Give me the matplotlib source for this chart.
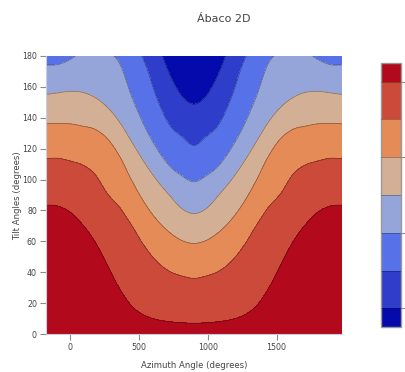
import numpy as np
import matplotlib
matplotlib.use('Agg')
import matplotlib.pyplot as plt
from matplotlib.patches import Rectangle

# azimuth columns (degrees) and the height (tilt, degrees) of each contour line in every column
azimuth = [-180, -90, 0, 90, 180, 270, 360, 450, 540, 630, 720, 810, 900,
           990, 1080, 1170, 1260, 1350, 1440, 1530, 1620, 1710, 1800, 1890, 1980]

level_7 = [83.5, 83, 79, 71, 60, 45, 29.5, 18, 12.3, 9.5, 8.2, 7.5, 7.2,
           7.5, 8.2, 9.5, 12.3, 18, 29.5, 45, 60, 71, 79, 83, 83.5]
level_6 = [113.5, 113.8, 112, 109.5, 103.5, 91, 82, 70, 57, 47, 40.8, 37.7, 36.2,
           37.7, 40.8, 47, 57, 70, 82, 91, 103.5, 109.5, 112, 113.8, 113.5]
level_5 = [136, 136.3, 136, 134.5, 132.5, 126.5, 115, 99, 85, 74, 66, 60.7, 58.7,
           60.7, 66, 74, 85, 99, 115, 126.5, 132.5, 134.5, 136, 136.3, 136]
level_4 = [155, 156, 157, 156.3, 153, 146.7, 137, 124, 111, 99.6, 90, 81.3, 78,
           81.3, 90, 99.6, 111, 124, 137, 146.7, 153, 156.3, 157, 156, 155]
level_3 = [174, 174.2, 177.5, 183, 186, 183, 175, 153, 134.5, 120, 109, 102.5, 98.5,
           102.5, 109, 120, 134.5, 153, 175, 183, 186, 183, 177.5, 174.2, 174]
level_2 = [205, 205, 205, 205, 205, 202, 198, 190, 176, 152.5, 135.5, 127.8, 122,
           127.8, 135.5, 152.5, 176, 190, 198, 202, 205, 205, 205, 205, 205]
level_1 = [235, 235, 235, 235, 235, 232, 228, 220, 205, 189, 168.5, 154, 148.5,
           154, 168.5, 189, 205, 220, 228, 232, 235, 235, 235, 235, 235]

x_ticks = [0, 500, 1000, 1500]
y_ticks = [0, 20, 40, 60, 80, 100, 120, 140, 160, 180]
cbar_ticks = [1, 3, 5, 7]

# plotly RdBu colours for the 8 bands, low to high
band_colors = ['#050aac', '#2e3ecb', '#5772e9', '#96a5d9',
               '#d3b095', '#e48b57', '#cb4a39', '#b20a1c']
text_color = '#444444'


def smooth_line(xs, ys, xf):
    # Catmull-Rom curve through the read points (uniform spacing)
    xs = np.asarray(xs, dtype=float)
    ys = np.asarray(ys, dtype=float)
    n = len(xs)
    h = xs[1] - xs[0]
    i = np.clip(((xf - xs[0]) // h).astype(int), 0, n - 2)
    t = (xf - xs[i]) / h
    p0 = ys[np.maximum(i - 1, 0)]
    p1 = ys[i]
    p2 = ys[i + 1]
    p3 = ys[np.minimum(i + 2, n - 1)]
    m1 = (p2 - p0) / 2
    m2 = (p3 - p1) / 2
    return ((2 * t**3 - 3 * t**2 + 1) * p1 + (t**3 - 2 * t**2 + t) * m1
            + (-2 * t**3 + 3 * t**2) * p2 + (t**3 - t**2) * m2)


# build the z table: value k on line level_k, linear in tilt between lines
az_grid = np.linspace(azimuth[0], azimuth[-1], 541)
tilt = np.linspace(0, 180, 361)
lines = [level_7, level_6, level_5, level_4, level_3, level_2, level_1]
lines_fine = [smooth_line(azimuth, ln, az_grid) for ln in lines]
z = np.empty((len(tilt), len(az_grid)))
for j in range(len(az_grid)):
    heights = [-30] + [ln[j] for ln in lines_fine] + [250]
    values = [8, 7, 6, 5, 4, 3, 2, 1, 0]
    z[:, j] = np.interp(tilt, heights, values)

levels = [-1, 1, 2, 3, 4, 5, 6, 7, 9]

fig = plt.figure(figsize=(4.06, 3.72), dpi=100)
ax = fig.add_axes([46 / 406, 1 - 334.3 / 372, 296 / 406, 278.6 / 372])

cf = ax.contourf(az_grid, tilt, z, levels=levels, colors=band_colors)
cs = ax.contour(az_grid, tilt, z, levels=levels[1:-1], colors='black',
                linewidths=0.5, alpha=0.4)

ax.set_xlim(-175, 1975)
ax.set_ylim(0, 180)
ax.set_xticks(x_ticks)
ax.set_yticks(y_ticks)
ax.tick_params(direction='out', length=4, width=0.8, color='#8a8a8a',
               labelsize=5.7, labelcolor=text_color, pad=2.5)
for side in ['top', 'right']:
    ax.spines[side].set_visible(False)
for side in ['left', 'bottom']:
    ax.spines[side].set_color('#c8cce0')
    ax.spines[side].set_linewidth(0.8)

# colorbar
cax = fig.add_axes([380.7 / 406, 1 - 327.3 / 372, 20.3 / 406, 264.6 / 372])
cbar = fig.colorbar(cf, cax=cax, spacing='proportional')
cbar.add_lines(cs)
cax.set_ylim(0.5, 7.5)
cbar.outline.set_visible(False)
cax.add_patch(Rectangle((0, 0), 1, 1, transform=cax.transAxes, fill=False,
                        ec='#999999', lw=1, clip_on=False))
cbar.set_ticks(cbar_ticks)
cax.tick_params(direction='out', length=5, width=0.8, color='#8a8a8a',
                labelright=False)

fig.text(223.7 / 406, 1 - 19 / 372, 'Ábaco 2D', ha='center', va='center',
         fontsize=8, color=text_color)
fig.text(194 / 406, 1 - 365 / 372, 'Azimuth Angle (degrees)', ha='center',
         va='center', fontsize=6.1, color=text_color)
fig.text(17.5 / 406, 1 - 195.8 / 372, 'Tilt Angles (degrees)', ha='center',
         va='center', rotation=90, fontsize=6.1, color=text_color)

fig.savefig('out.png', dpi=100)
